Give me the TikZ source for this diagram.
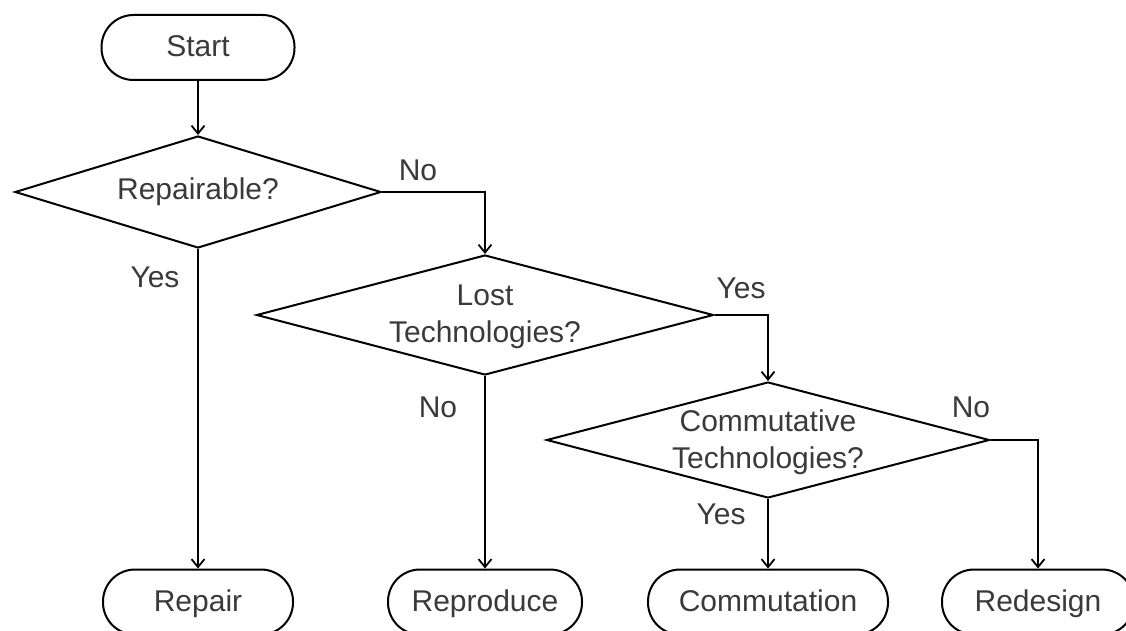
\documentclass[tikz,border=0pt]{standalone}
\usepackage{fontspec}
\setmainfont{Liberation Sans}
\usetikzlibrary{shapes.geometric,arrows.meta}
\definecolor{txt}{HTML}{3A3A3A}
\newcommand{\fsz}{\fontsize{30}{37}\selectfont}
\begin{document}
\begin{tikzpicture}[x=1pt,y=-1pt,
  term/.style={draw,line width=2pt,rounded corners=32pt,minimum height=65pt,inner sep=0pt,font=\fsz,text=txt,text height=22pt,text depth=4pt},
  dec/.style={draw,line width=2pt,diamond,inner sep=0pt},
  dtext/.style={font=\fsz,text=txt,align=center,inner sep=0pt},
  lbl/.style={font=\fsz,text=txt,inner sep=0pt},
  conn/.style={line width=1.8pt,-{Straight Barb[length=8pt,width=13pt,line width=1.8pt]}}]
\useasboundingbox (0,0) rectangle (1126,631);
\clip (0,0) rectangle (1126,631);
\fill[white] (0,0) rectangle (1126,631);
% terminals
\node[term,minimum width=193pt] (start) at (198,47.5) {Start};
\node[term,minimum width=190pt] (repair) at (198,602) {Repair};
\node[term,minimum width=194pt] (reproduce) at (485,602) {Reproduce};
\node[term,minimum width=240pt] (commutation) at (768,602) {Commutation};
\node[term,minimum width=192pt] (redesign) at (1038,602) {Redesign};
% decisions
\node[dec,minimum width=366pt,minimum height=112pt] (d1) at (198,192) {};
\node[dtext] (t1) at (d1.center) {Repairable?};
\node[dec,minimum width=457pt,minimum height=120pt] (d2) at (485,315) {};
\node[dtext] (t2) at ([yshift=-2pt]d2.center) {Lost\\Technologies?};
\node[dec,minimum width=443pt,minimum height=116pt] (d3) at (768,440) {};
\node[dtext] (t3) at ([yshift=-2pt]d3.center) {Commutative\\Technologies?};
% connectors
\draw[conn] (start.south) -- (d1.north);
\draw[conn] (d1.east) -| (d2.north);
\draw[conn] (d1.south) -- (repair.north);
\draw[conn] (d2.east) -| (d3.north);
\draw[conn] (d2.south) -- (reproduce.north);
\draw[conn] (d3.east) -| (redesign.north);
\draw[conn] (d3.south) -- (commutation.north);
% labels
\node[lbl] (l1) at (418,170) {No};
\node[lbl] (l2) at (155,277) {Yes};
\node[lbl] (l3) at (741,288) {Yes};
\node[lbl] (l4) at (438,407) {No};
\node[lbl] (l5) at (971,407) {No};
\node[lbl] (l6) at (721,514) {Yes};
\end{tikzpicture}
\end{document}
